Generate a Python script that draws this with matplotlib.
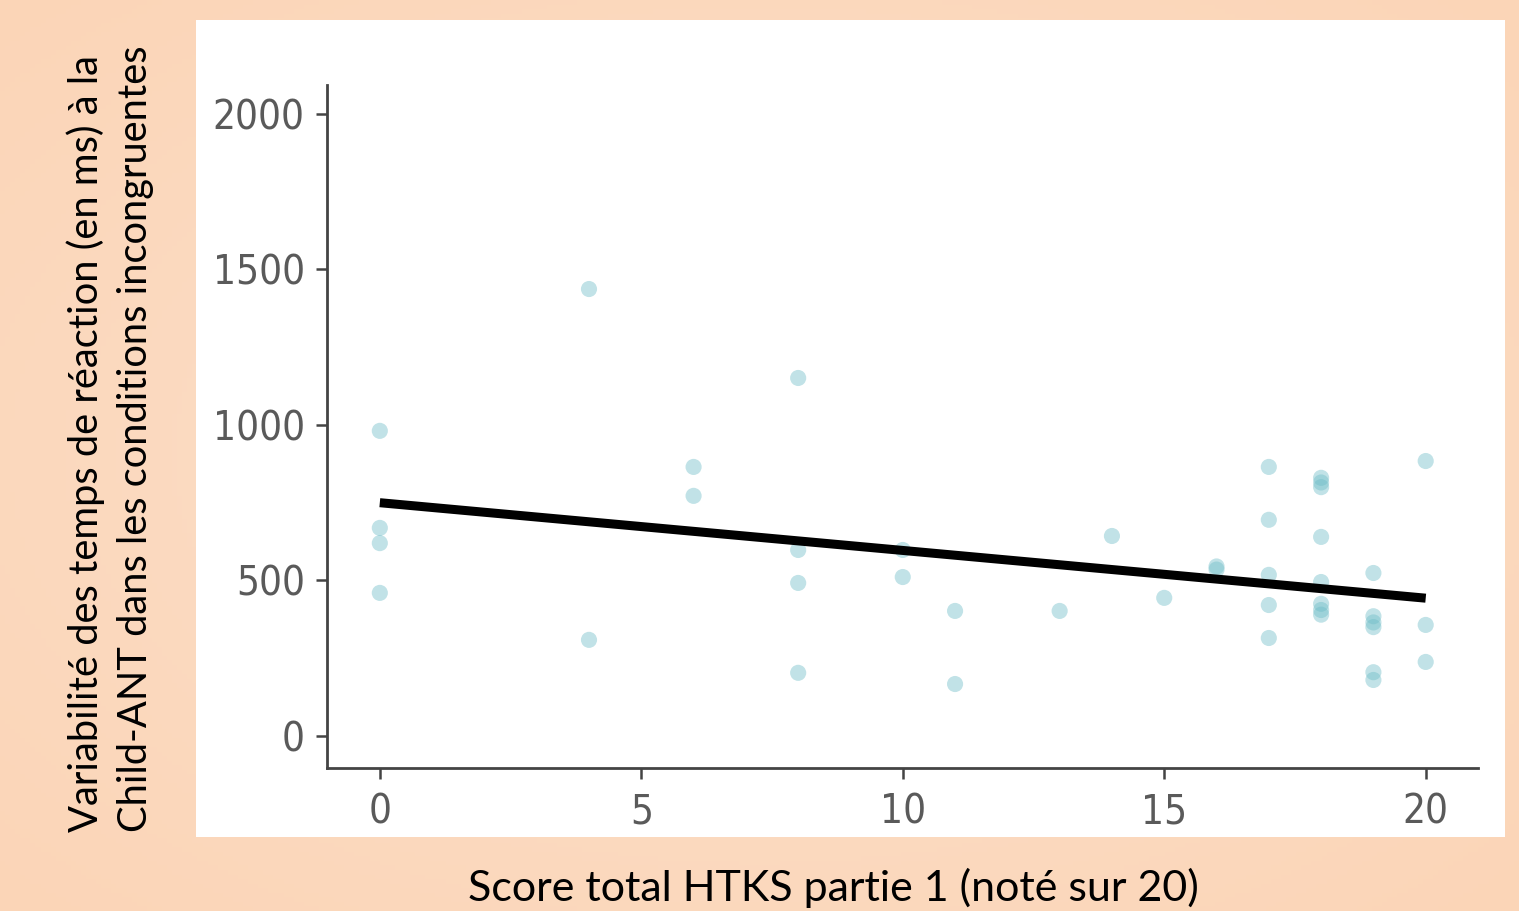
import numpy as np
import matplotlib.pyplot as plt
from matplotlib.patches import Rectangle
from matplotlib import font_manager

# --- data ---
score = [0, 0, 0, 0,
         4, 4,
         6, 6,
         8, 8, 8, 8,
         10, 10,
         11, 11,
         13,
         14,
         15,
         16, 16,
         17, 17, 17, 17, 17,
         18, 18, 18, 18, 18, 18, 18, 18,
         19, 19, 19, 19, 19, 19,
         20, 20, 20]
variab = [981, 669, 620, 460,
          1437, 309,
          865, 772,
          1151, 598, 492, 203,
          598, 511,
          402, 167,
          402,
          643,
          444,
          545, 535,
          865, 695, 518, 421, 315,
          830, 815, 800, 640, 495, 425, 405, 390,
          524, 385, 365, 350, 205, 180,
          884, 357, 238]

# regression line (ends)
fit_x = [0, 20]
fit_y = [750, 443]

xticks = [0, 5, 10, 15, 20]
yticks = [0, 500, 1000, 1500, 2000]

xlabel = "Score total HTKS partie 1 (noté sur 20)"
ylabel = "Variabilité des temps de réaction (en ms) à la\nChild-ANT dans les conditions incongruentes"

W, H = 1519, 911
fig = plt.figure(figsize=(W / 100, H / 100), dpi=100)

# --- peach background with soft radial gradient ---
bg = fig.add_axes([0, 0, 1, 1], zorder=-10)
gx, gy = np.meshgrid(np.linspace(-1, 1, 300), np.linspace(-1, 1, 200))
r = np.clip(np.sqrt(gx**2 + gy**2) / 1.414, 0, 1)
c_in = np.array([253, 224, 203]) / 255
c_out = np.array([251, 213, 183]) / 255
img = c_in[None, None, :] * (1 - r[..., None]) + c_out[None, None, :] * r[..., None]
bg.imshow(img, aspect="auto", extent=[0, 1, 0, 1])
bg.set_axis_off()

# white panel behind the chart
fig.patches.append(Rectangle((196 / W, 1 - 837 / H), (1505 - 196) / W, (837 - 20) / H,
                             transform=fig.transFigure, facecolor="white",
                             edgecolor="none", zorder=-5))

ax = fig.add_axes([327 / W, 1 - 768 / H, (1478 - 327) / W, (768 - 85) / H])
ax.patch.set_alpha(0)

ax.scatter(score, variab, s=135, color="#6cbcc6", alpha=0.42, edgecolors="none", zorder=2)
ax.plot(fit_x, fit_y, color="black", linewidth=6.5, solid_capstyle="butt", zorder=3)

ax.set_xlim(-1.01, 21.0)
ax.set_ylim(-103, 2093)
ax.set_xticks(xticks)
ax.set_yticks(yticks)

# narrow, tall tick digits like the original
tick_prop = font_manager.FontProperties(family=["Liberation Sans Narrow", "DejaVu Sans"],
                                        stretch="condensed", size=29)
for lab in ax.get_xticklabels() + ax.get_yticklabels():
    lab.set_fontproperties(tick_prop)
    lab.set_color("#5a5a5a")

ax.tick_params(axis="both", direction="out", length=8, width=1.8, color="#444444")
ax.tick_params(axis="x", pad=10)
ax.tick_params(axis="y", pad=8)

for side in ["top", "right"]:
    ax.spines[side].set_visible(False)
for side in ["left", "bottom"]:
    ax.spines[side].set_color("#444444")
    ax.spines[side].set_linewidth(2)

label_font = ["Lato", "DejaVu Sans"]
# kept just inside the bottom edge (the original is cropped there)
fig.text(833 / W, 3 / H, xlabel, ha="center", va="bottom",
         fontsize=31, family=label_font, color="black")
fig.text(110 / W, 1 - 439 / H, ylabel, ha="center", va="center", rotation=90,
         fontsize=28.7, family=label_font, color="black", linespacing=1.38,
         multialignment="left")

fig.savefig("out.png", dpi=100)
